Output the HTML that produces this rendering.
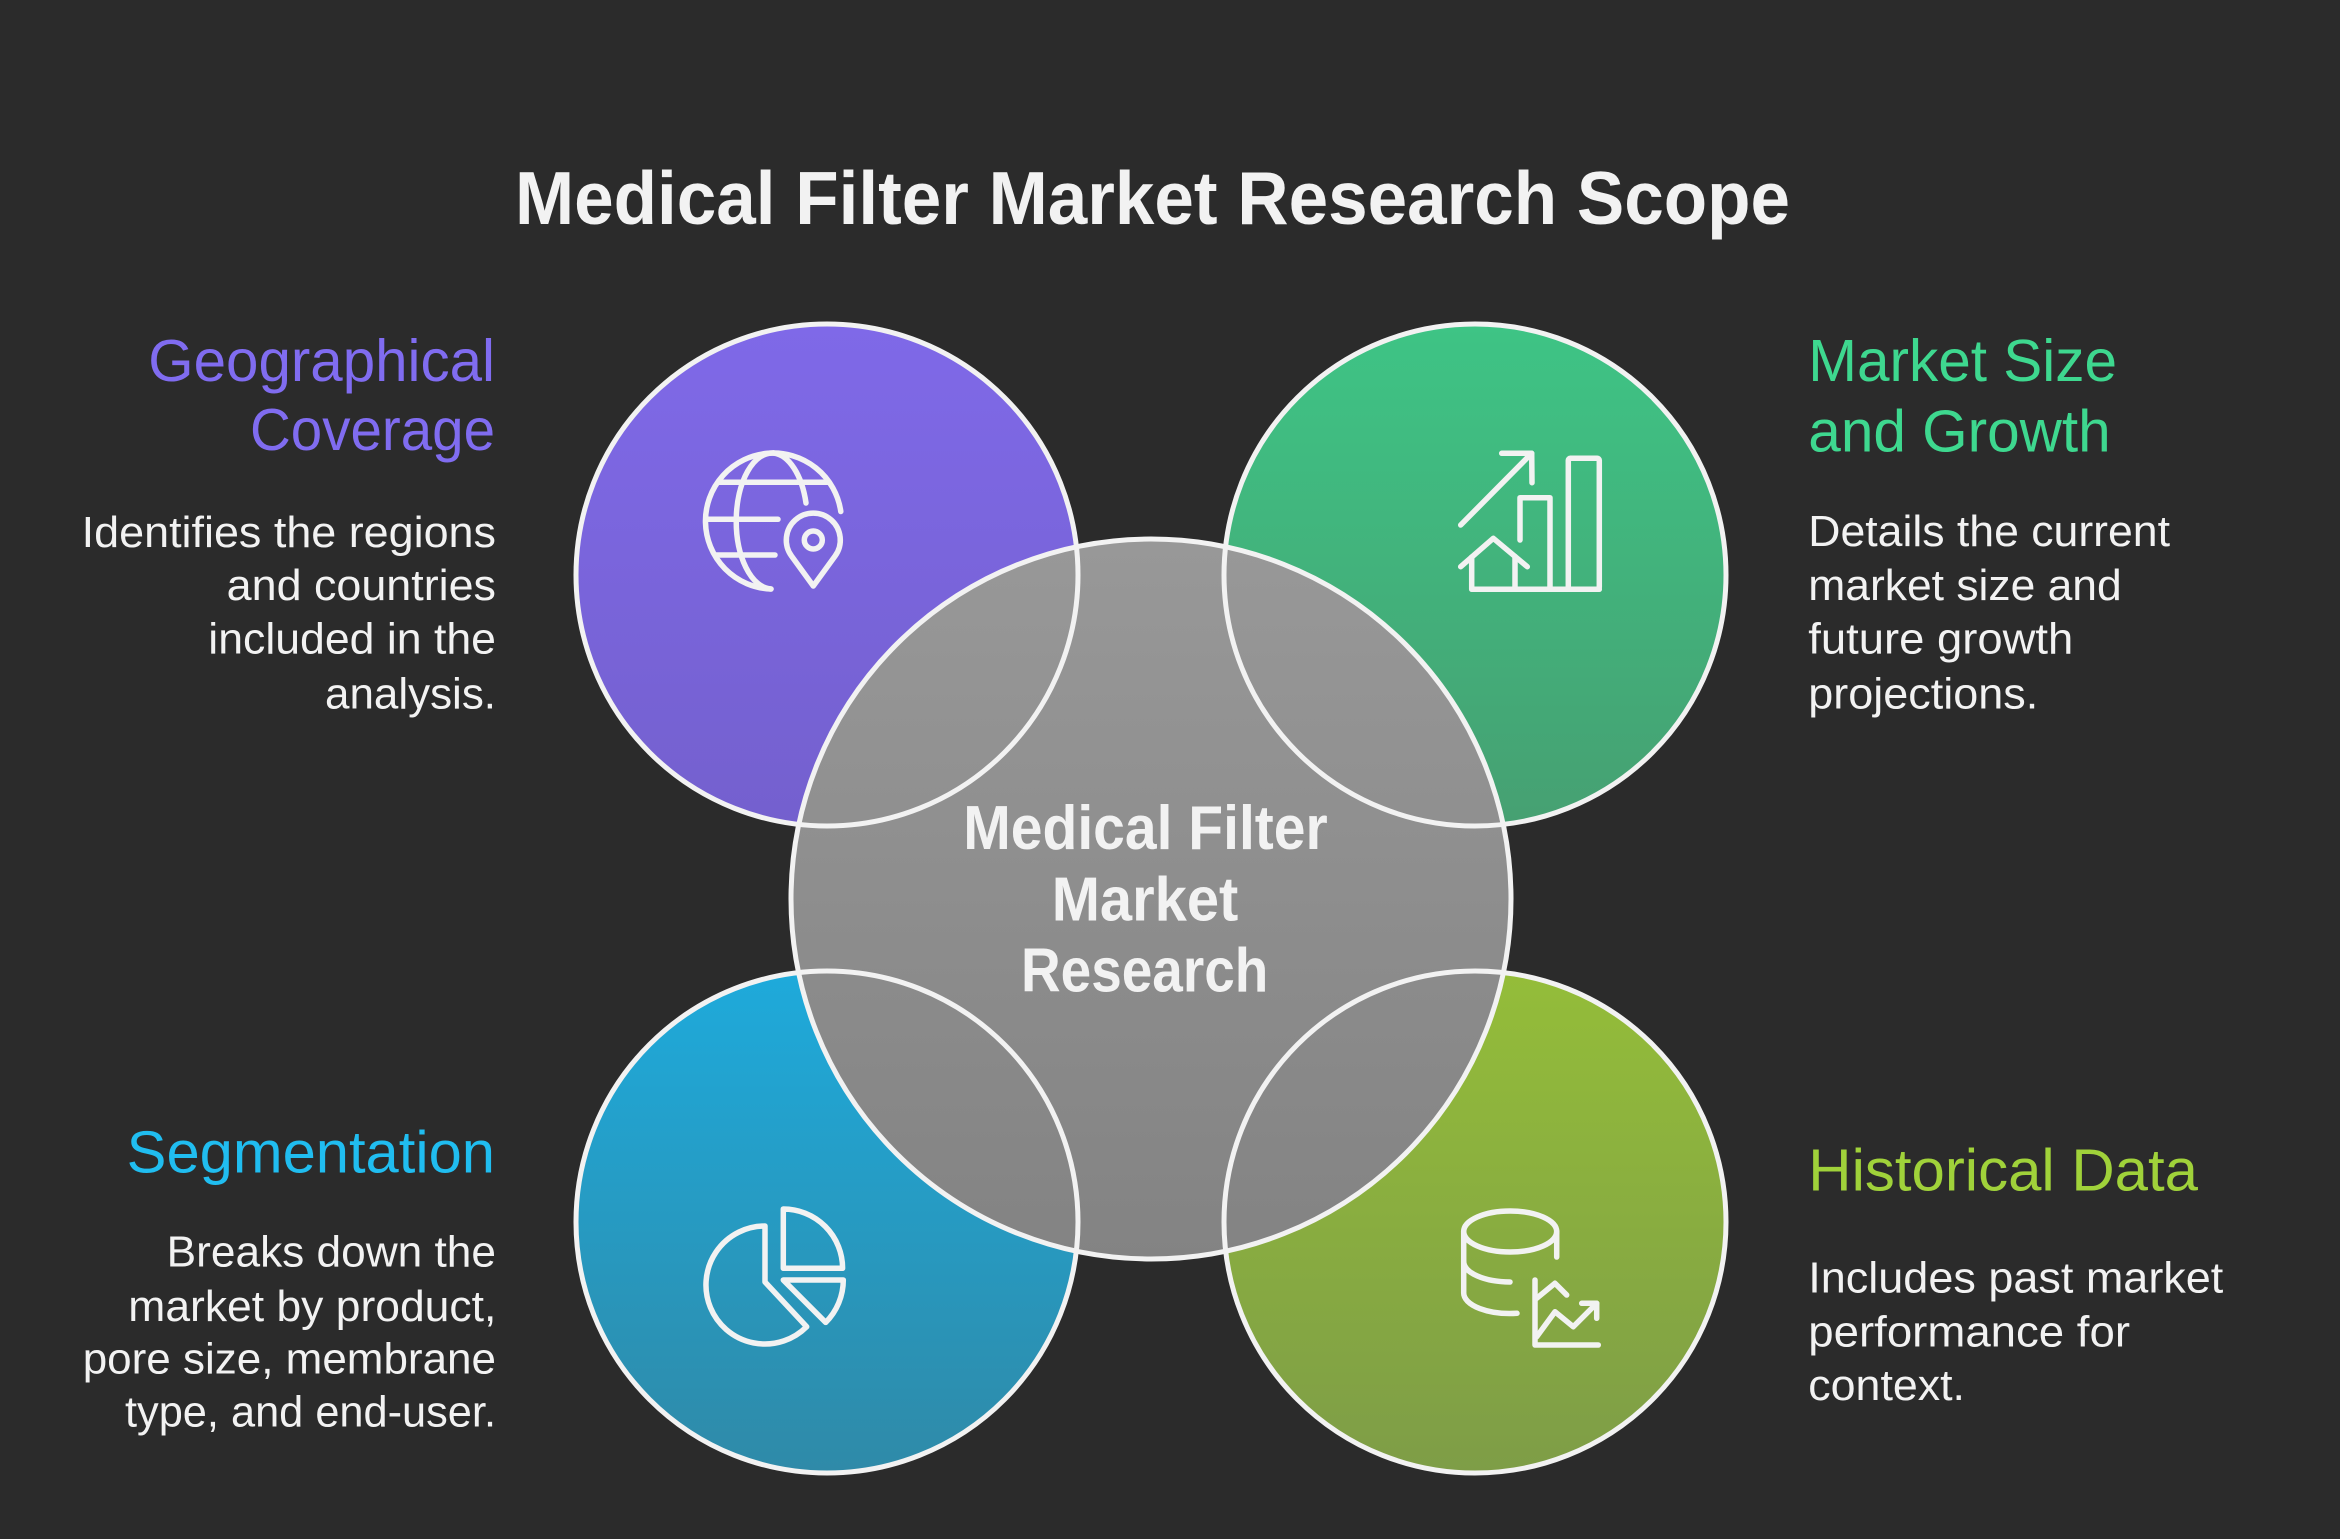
<!DOCTYPE html>
<html>
<head>
<meta charset="utf-8">
<style>
  html, body { margin: 0; padding: 0; background: #2b2b2b; }
  body { width: 2340px; height: 1539px; overflow: hidden; }
  svg { display: block; }
  text { font-family: "Liberation Sans", Arial, sans-serif; }
</style>
</head>
<body>
<svg width="2340" height="1539" viewBox="0 0 2340 1539" xmlns="http://www.w3.org/2000/svg">
  <defs>
    <linearGradient id="gP" x1="0" y1="0" x2="0" y2="1">
      <stop offset="0" stop-color="#7F69E8"/>
      <stop offset="1" stop-color="#7460CE"/>
    </linearGradient>
    <linearGradient id="gG" x1="0" y1="0" x2="0" y2="1">
      <stop offset="0" stop-color="#3EC485"/>
      <stop offset="1" stop-color="#46A072"/>
    </linearGradient>
    <linearGradient id="gB" x1="0" y1="0" x2="0" y2="1">
      <stop offset="0" stop-color="#1EAADB"/>
      <stop offset="1" stop-color="#2F8AA8"/>
    </linearGradient>
    <linearGradient id="gL" x1="0" y1="0" x2="0" y2="1">
      <stop offset="0" stop-color="#94BD39"/>
      <stop offset="1" stop-color="#7E9D47"/>
    </linearGradient>
    <linearGradient id="gC" x1="0" y1="0" x2="0" y2="1">
      <stop offset="0" stop-color="#989898"/>
      <stop offset="1" stop-color="#838383"/>
    </linearGradient>
  </defs>

  <rect x="0" y="0" width="2340" height="1539" fill="#2b2b2b"/>

  <!-- Title -->
  <text x="515" y="224" font-size="75" font-weight="bold" fill="#f2f2f2" textLength="1275" lengthAdjust="spacingAndGlyphs">Medical Filter Market Research Scope</text>

  <!-- Circle fills -->
  <circle cx="827" cy="575" r="251" fill="url(#gP)"/>
  <circle cx="1475" cy="575" r="251" fill="url(#gG)"/>
  <circle cx="827" cy="1222" r="251" fill="url(#gB)"/>
  <circle cx="1475" cy="1222" r="251" fill="url(#gL)"/>
  <circle cx="1151" cy="899" r="360" fill="url(#gC)"/>

  <!-- Circle strokes -->
  <g fill="none" stroke="#f2f2f2" stroke-width="5">
    <circle cx="827" cy="575" r="251"/>
    <circle cx="1475" cy="575" r="251"/>
    <circle cx="827" cy="1222" r="251"/>
    <circle cx="1475" cy="1222" r="251"/>
    <circle cx="1151" cy="899" r="360"/>
  </g>

  <!-- Icons -->
  <g fill="none" stroke="#f2f2f2" stroke-width="5.5" stroke-linecap="round" stroke-linejoin="round">
    <!-- Globe + pin -->
    <path d="M771,589 A68 68 0 1 1 840.8,511.5"/>
    <path d="M773.5,453 A36 68 0 0 0 771,589"/>
    <path d="M773.5,453 A36 68 0 0 1 806,503"/>
    <path d="M718,482.3 L828,482.3"/>
    <path d="M706.5,519.3 L778,519.3"/>
    <path d="M715,555 L775,555"/>
    <path d="M813.3,586 L791.5,556 A27 27 0 1 1 835.1,556 Z"/>
    <circle cx="813.3" cy="540" r="9"/>

    <!-- Growth chart -->
    <path d="M1460.7,525 L1531.7,453.3"/>
    <path d="M1501.7,453.3 L1531.7,453.3 L1532,482.7"/>
    <path d="M1520,540 L1520,497.7 L1550,497.7 L1550,589.3"/>
    <rect x="1568.3" y="458.3" width="31" height="131" rx="2"/>
    <path d="M1460.7,566.7 L1493.3,538.3 L1527.3,566.7"/>
    <path d="M1471.7,557 L1471.7,589.3 L1599.3,589.3"/>
    <path d="M1515,556.4 L1515,589.3"/>

    <!-- Pie chart -->
    <path d="M765,1226 L765,1282 L806.7,1326.7 A59 59 0 1 1 765,1226 Z"/>
    <path d="M783.3,1268.3 L783.3,1209 A59.3 59.3 0 0 1 842.6,1268.3 Z"/>
    <path d="M783.3,1280 L843.3,1280 A60 60 0 0 1 825.7,1322.4 Z"/>

    <!-- Database + chart -->
    <ellipse cx="1510.2" cy="1231.5" rx="46.5" ry="20.5"/>
    <path d="M1463.7,1231.5 L1463.7,1293 A46.5 20.5 0 0 0 1517,1313.3"/>
    <path d="M1463.7,1261.7 A46.5 20.5 0 0 0 1510,1282"/>
    <path d="M1556.7,1231.5 L1556.7,1257"/>
    <path d="M1535,1280 L1535,1345 L1598.3,1345"/>
    <path d="M1536.7,1298.3 L1555,1283.3 L1566.7,1295"/>
    <path d="M1536.7,1336.7 L1555,1311.7 L1573.3,1326.7 L1596.7,1303.3"/>
    <path d="M1581.7,1303.3 L1596.7,1303.3 L1596.7,1318.3"/>
  </g>

  <!-- Center text -->
  <g font-size="62" font-weight="bold" fill="#f2f2f2">
    <text x="963.3" y="849" textLength="364.4" lengthAdjust="spacingAndGlyphs">Medical Filter</text>
    <text x="1051.7" y="920.7" textLength="186.6" lengthAdjust="spacingAndGlyphs">Market</text>
    <text x="1021" y="991.7" textLength="247.3" lengthAdjust="spacingAndGlyphs">Research</text>
  </g>

  <!-- Top-left text -->
  <g font-size="59" fill="#806CF0">
    <text x="148.3" y="381" textLength="346.7" lengthAdjust="spacingAndGlyphs">Geographical</text>
    <text x="250" y="450" textLength="245" lengthAdjust="spacingAndGlyphs">Coverage</text>
  </g>
  <g font-size="44" fill="#f2f2f2">
    <text x="81.7" y="547" textLength="414.3" lengthAdjust="spacingAndGlyphs">Identifies the regions</text>
    <text x="226.7" y="600" textLength="269.3" lengthAdjust="spacingAndGlyphs">and countries</text>
    <text x="208.3" y="653.3" textLength="287.7" lengthAdjust="spacingAndGlyphs">included in the</text>
    <text x="325" y="708.3" textLength="171" lengthAdjust="spacingAndGlyphs">analysis.</text>
  </g>

  <!-- Top-right text -->
  <g font-size="59" fill="#3ED88F">
    <text x="1808.3" y="381" textLength="308.7" lengthAdjust="spacingAndGlyphs">Market Size</text>
    <text x="1808.3" y="451.7" textLength="302.4" lengthAdjust="spacingAndGlyphs">and Growth</text>
  </g>
  <g font-size="44" fill="#f2f2f2">
    <text x="1808.3" y="546" textLength="361.7" lengthAdjust="spacingAndGlyphs">Details the current</text>
    <text x="1808.3" y="600" textLength="313.4" lengthAdjust="spacingAndGlyphs">market size and</text>
    <text x="1808.3" y="653.3" textLength="265" lengthAdjust="spacingAndGlyphs">future growth</text>
    <text x="1808.3" y="708.3" textLength="230" lengthAdjust="spacingAndGlyphs">projections.</text>
  </g>

  <!-- Bottom-left text -->
  <g font-size="59" fill="#20BDF0">
    <text x="126.7" y="1172.3" textLength="368.3" lengthAdjust="spacingAndGlyphs">Segmentation</text>
  </g>
  <g font-size="44" fill="#f2f2f2">
    <text x="166.7" y="1266.7" textLength="329.3" lengthAdjust="spacingAndGlyphs">Breaks down the</text>
    <text x="128.3" y="1321" textLength="368" lengthAdjust="spacingAndGlyphs">market by product,</text>
    <text x="82.7" y="1373.3" textLength="413.3" lengthAdjust="spacingAndGlyphs">pore size, membrane</text>
    <text x="125" y="1426.7" textLength="371" lengthAdjust="spacingAndGlyphs">type, and end-user.</text>
  </g>

  <!-- Bottom-right text -->
  <g font-size="59" fill="#A0D23A">
    <text x="1808.3" y="1190.7" textLength="389.7" lengthAdjust="spacingAndGlyphs">Historical Data</text>
  </g>
  <g font-size="44" fill="#f2f2f2">
    <text x="1808.3" y="1292.7" textLength="415" lengthAdjust="spacingAndGlyphs">Includes past market</text>
    <text x="1808.3" y="1346.7" textLength="321.7" lengthAdjust="spacingAndGlyphs">performance for</text>
    <text x="1808.3" y="1400" textLength="156.7" lengthAdjust="spacingAndGlyphs">context.</text>
  </g>
</svg>
</body>
</html>
